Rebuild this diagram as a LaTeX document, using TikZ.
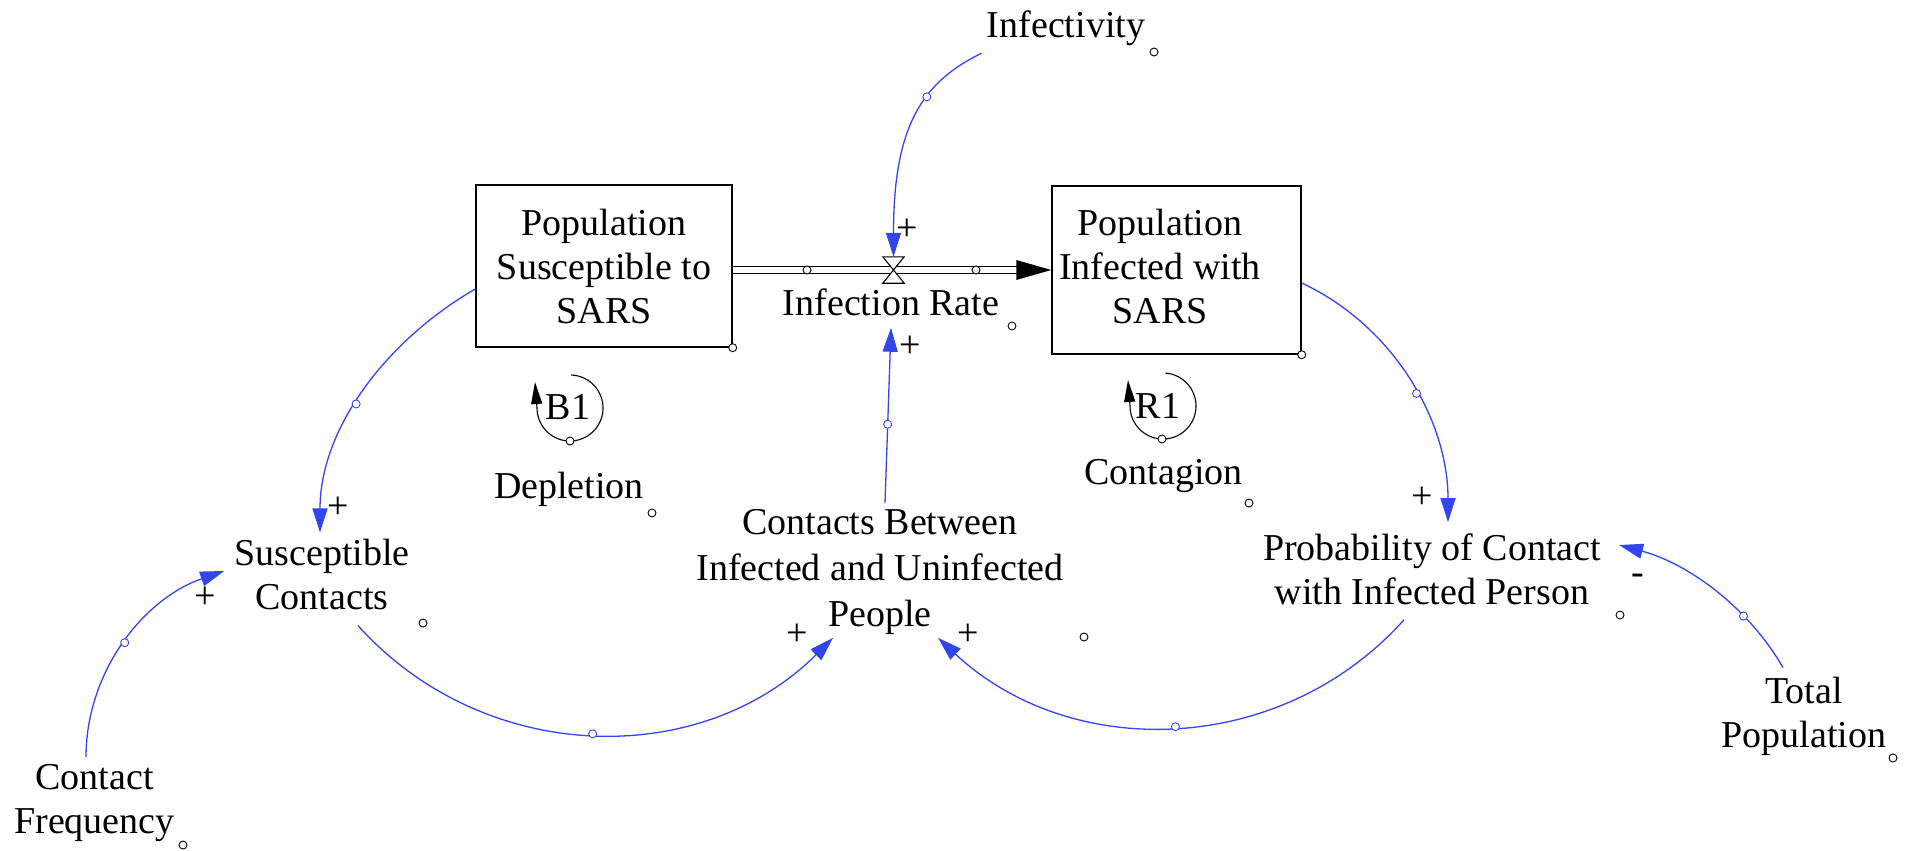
\documentclass[tikz,border=0pt]{standalone}
\usepackage{fontspec}
\setmainfont{Liberation Serif}
\usetikzlibrary{arrows.meta,calc}
\definecolor{linkblue}{RGB}{50,70,235}
\begin{document}
\begin{tikzpicture}[x=1pt,y=-1pt,
  every node/.style={font=\fontsize{38}{44}\selectfont},
  lbl/.style={align=center,inner sep=0pt},
  stock/.style={draw,line width=1.4pt,inner sep=0pt,align=center},
  dotc/.style={circle,draw=black,fill=white,inner sep=0pt,minimum size=8pt,line width=0.9pt},
  bdot/.style={dotc,draw=linkblue},
  link/.style={draw=linkblue,color=linkblue,line width=1.3pt,-{Triangle[length=24pt,width=15pt]}},
  sign/.style={inner sep=0pt},
  loopline/.style={line width=1.1pt,-{Triangle[length=22pt,width=11pt]}},
  pipe/.style={line width=1.4pt,double,double distance=6pt}
]
\useasboundingbox (0,0) rectangle (1914,851);

% stocks
\node[stock,minimum width=256pt,minimum height=162pt] (box1) at (604,266) {Population\\Susceptible to\\SARS};
\node[stock,minimum width=249pt,minimum height=168pt] (box2) at (1176.5,270) {};
\node[lbl] (box2t) at (1160,266) {Population\\Infected with\\SARS};

% valve
\node[inner sep=0pt,minimum width=21pt,minimum height=26pt] (valve) at (893.5,270) {};

% variables
\node[lbl] (infrate) at (891,302) {Infection Rate};
\node[lbl] (infectivity) at (1066,28.5) {Infectivity};
\node[lbl,font=\fontsize{38}{46}\selectfont] (contacts) at (880,572) {Contacts Between\\Infected and Uninfected\\People};
\node[lbl] (susc) at (322,574) {Susceptible\\Contacts};
\node[lbl] (cfreq) at (94.5,803) {Contact\\Frequency};
\node[lbl] (prob) at (1432,569) {Probability of Contact\\with Infected Person};
\node[lbl] (total) at (1804,716) {Total\\Population};
\node[lbl] (depl) at (569,489) {Depletion};
\node[lbl] (contag) at (1163.5,476) {Contagion};
\node[lbl] (B1) at (568,407) {B1};
\node[lbl] (R1) at (1158,406) {R1};

% pipe
\draw[pipe] (box1.east |- valve.center) -- ($(box2.west |- valve.center)+(-34,0)$);
\fill (box2.west |- valve.center) -- ++(-35,-10) -- ++(0,20) -- cycle;
\node[dotc] (pc1) at (807,270) {};
\node[dotc] (pc2) at (976,270) {};
\draw[line width=1.1pt,fill=white] (valve.north west) -- (valve.north east) -- (valve.south west) -- (valve.south east) -- cycle;

% loops
\draw[loopline] ([shift={(2,1)}]B1.center) ++(88:33pt) arc[start angle=88,end angle=-180,radius=33pt] -- ++(-2,-26);
\node[dotc] (B1c) at ([shift={(2,34)}]B1.center) {};
\draw[loopline] ([shift={(5,0)}]R1.center) ++(86:33pt) arc[start angle=86,end angle=-180,radius=33pt] -- ++(-2,-26);
\node[dotc] (R1c) at ([shift={(4,33)}]R1.center) {};

% links
\draw[link] ([xshift=-5pt,yshift=-7pt]infectivity.south west) .. controls +(-60,29) and +(0,-130) .. (valve.north) node[bdot,pos=0.38]{};
\draw[link] ([xshift=5pt,yshift=6pt]contacts.north) -- ([yshift=-12pt]infrate.south) node[bdot,pos=0.45]{};
\draw[link] ([yshift=-23pt]box1.west) .. controls +(-89.6,51.8) and +(0,-103.5) .. ([xshift=-2pt,yshift=6pt]susc.north) node[bdot,pos=0.55]{};
\draw[link] ([xshift=-8.5pt,yshift=7pt]cfreq.north) .. controls +(0,-85) and +(-81,28) .. ([xshift=-10pt,yshift=3pt]susc.west) node[bdot,pos=0.5]{};
\draw[link] ([xshift=36pt,yshift=-16pt]susc.south) .. controls +(125.5,139.7) and +(-133,132.6) .. ([xshift=-47pt,yshift=-3pt]contacts.south) node[bdot,pos=0.5]{};
\draw[link] ([xshift=-28pt,yshift=-15pt]prob.south) .. controls +(-122,136.3) and +(133.8,124.8) .. ([xshift=58pt,yshift=-3pt]contacts.south) node[bdot,pos=0.5]{};
\draw[link] ([yshift=-13pt]box2.east) .. controls +(92,43) and +(0,-101.6) .. ([xshift=16pt,yshift=11pt]prob.north) node[bdot,pos=0.55]{};
\draw[link] ([xshift=-21pt,yshift=9pt]total.north) .. controls +(-35.4,-61.3) and +(68.4,18.3) .. ([xshift=18pt,yshift=24pt]prob.east) node[bdot,pos=0.31]{};

% polarity signs
\node[sign] (s1) at (907,230) {+};
\node[sign] (s2) at (910,347) {+};
\node[sign] (s3) at (338,508) {+};
\node[sign] (s4) at (205,598) {+};
\node[sign] (s5) at (797,635) {+};
\node[sign] (s6) at (968,635) {+};
\node[sign] (s7) at (1422,498) {+};
\node[sign] (s8) at (1638,579) {-};

% small marker circles
\node[dotc] (o1) at (box1.south east) {};
\node[dotc] (o2) at (box2.south east) {};
\node[dotc] (o3) at (1012,326) {};
\node[dotc] (o4) at (1154,52) {};
\node[dotc] (o5) at (1084,637) {};
\node[dotc] (o6) at (423,623) {};
\node[dotc] (o7) at (183,845) {};
\node[dotc] (o8) at (652,513) {};
\node[dotc] (o9) at (1249,503) {};
\node[dotc] (o10) at (1620,615) {};
\node[dotc] (o11) at (1893,758) {};
\end{tikzpicture}
\end{document}
